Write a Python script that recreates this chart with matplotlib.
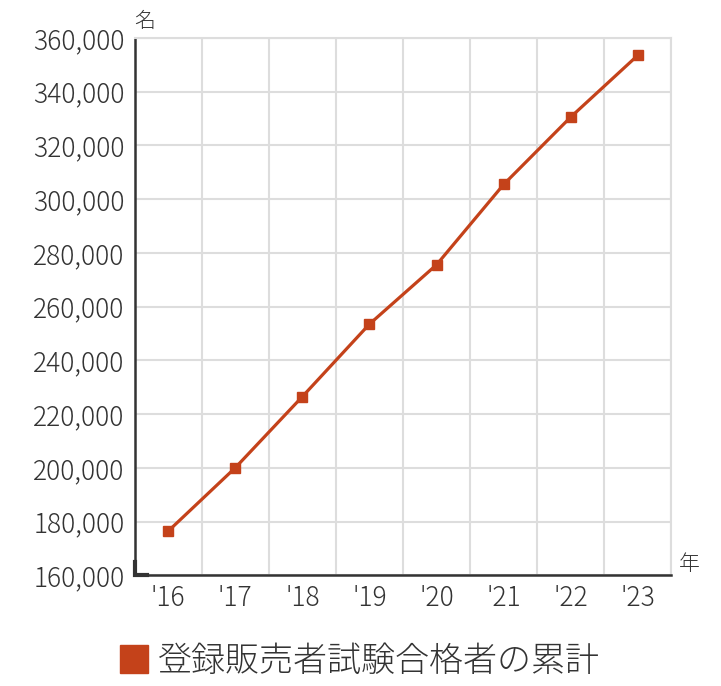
import matplotlib

matplotlib.use("Agg")
import matplotlib.pyplot as plt
from matplotlib.lines import Line2D
from matplotlib.ticker import FuncFormatter, MultipleLocator

plt.rcParams["font.family"] = ["Noto Sans CJK JP", "DejaVu Sans"]
plt.rcParams["font.weight"] = "light"

YEARS = ["'16", "'17", "'18", "'19", "'20", "'21", "'22", "'23"]
PASSERS_TOTAL = [176400, 200000, 226500, 253500, 275600, 305500, 330600, 353600]
SERIES_LABEL = "登録販売者試験合格者の累計"

LINE_COLOR = "#c4421a"
GRID_COLOR = "#dddddd"
TEXT_COLOR = "#333333"


def main() -> None:
    fig = plt.figure(figsize=(7.21, 6.86), dpi=100)
    ax = fig.add_axes([0.1866, 0.1614, 0.7447, 0.7832])

    x = list(range(len(YEARS)))
    ax.plot(x, PASSERS_TOTAL, color=LINE_COLOR, linewidth=2.3,
            marker="s", markersize=6.5, zorder=3)

    ax.set_xlim(-0.5, len(YEARS) - 0.5)
    ax.set_ylim(160000, 360000)
    ax.yaxis.set_major_locator(MultipleLocator(20000))
    ax.yaxis.set_major_formatter(FuncFormatter(lambda v, _: f"{int(v):,}"))
    ax.set_xticks(x)
    ax.set_xticklabels(YEARS)
    ax.set_xticks([i - 0.5 for i in range(len(YEARS) + 1)], minor=True)

    ax.grid(True, which="minor", axis="x", color=GRID_COLOR, linewidth=1.5)
    ax.grid(True, which="major", axis="y", color=GRID_COLOR, linewidth=1.5)
    ax.set_axisbelow(True)

    for side in ("top", "right"):
        ax.spines[side].set_color(GRID_COLOR)
        ax.spines[side].set_linewidth(1.5)
    for side in ("left", "bottom"):
        ax.spines[side].set_color(TEXT_COLOR)
        ax.spines[side].set_linewidth(1.8)

    # short heavier corner mark at the origin
    ax.plot([0, 0, 0.024], [0.024, 0, 0], transform=ax.transAxes,
            color=TEXT_COLOR, linewidth=3, clip_on=False, zorder=4,
            solid_joinstyle="miter")

    ax.tick_params(axis="both", which="both", length=0, colors=TEXT_COLOR,
                   labelsize=19)
    ax.tick_params(axis="y", pad=7)
    ax.tick_params(axis="x", pad=6)

    ax.text(0.0, 1.012, "名", transform=ax.transAxes, fontsize=15,
            color=TEXT_COLOR, ha="left", va="bottom")
    ax.text(1.014, 0.0, "年", transform=ax.transAxes, fontsize=15,
            color=TEXT_COLOR, ha="left", va="bottom")

    handle = Line2D([], [], color=LINE_COLOR, marker="s", linestyle="none",
                    markersize=20)
    fig.legend([handle], [SERIES_LABEL], loc="center", bbox_to_anchor=(0.5, 0.036),
               frameon=False, fontsize=24.5, handletextpad=0.3, handlelength=0.8,
               labelcolor=TEXT_COLOR)

    fig.savefig("out.png", dpi=100)
    plt.close(fig)


if __name__ == "__main__":
    main()
